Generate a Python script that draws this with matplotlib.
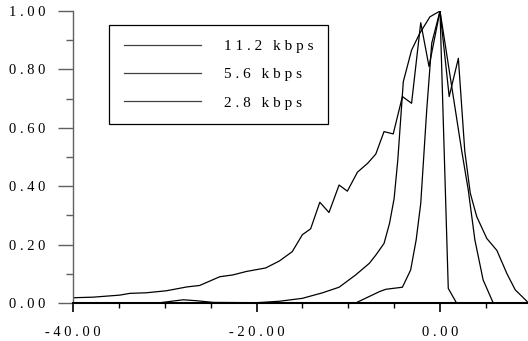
import numpy as np
import matplotlib
matplotlib.use("Agg")
import matplotlib.pyplot as plt
from matplotlib.ticker import MultipleLocator

# data
x_11k = [-40, -37.8, -34.9, -33.8, -32, -29.8, -27.6, -26.2, -24, -22.6, -21.1, -19,
         -17.5, -16.1, -15, -14.1, -13.1, -12.1, -11, -10.1, -9, -7.9, -7.0, -6.1,
         -5.1, -4.1, -3.1, -2.1, -1.2, 0, 1.0, 2.0, 2.7, 3.3, 4.0, 5.1, 6.2, 7.3, 8.2, 9.5]
y_11k = [0.018, 0.02, 0.027, 0.033, 0.035, 0.042, 0.055, 0.06, 0.09, 0.096, 0.108, 0.12,
         0.144, 0.176, 0.234, 0.254, 0.345, 0.31, 0.404, 0.383, 0.448, 0.478, 0.51, 0.587,
         0.579, 0.707, 0.684, 0.96, 0.81, 1.0, 0.707, 0.838, 0.52, 0.376, 0.296, 0.221,
         0.18, 0.10, 0.045, 0.005]

x_5k = [-40, -30.5, -28, -26.6, -24.7, -20, -17.5, -15, -12.8, -11, -9.2, -7.7, -7.0,
        -6.1, -5.5, -5.0, -4.6, -4.0, -3.1, -2.2, -1.1, 0, 2.35, 3.08, 3.8, 4.7, 5.8]
y_5k = [0.0, 0.001, 0.011, 0.008, 0.002, 0.001, 0.006, 0.016, 0.035, 0.054, 0.096, 0.136,
        0.164, 0.204, 0.273, 0.358, 0.49, 0.758, 0.866, 0.924, 0.98, 1.0, 0.524, 0.387,
        0.216, 0.079, 0.0]

x_2k = [-9.2, -6.6, -5.9, -4.1, -3.2, -2.6, -2.1, -1.45, -0.9, 0, 0.9, 1.8]
y_2k = [0.0, 0.039, 0.047, 0.054, 0.113, 0.216, 0.341, 0.66, 0.89, 1.0, 0.05, 0.0]

labels = ["11.2 kbps", "5.6 kbps", "2.8 kbps"]
xticks = [-40, -20, 0]
yticks = [0.0, 0.2, 0.4, 0.6, 0.8, 1.0]


def spaced(s):
    # letter-spaced look of the original
    return " ".join(s.replace(" ", "\u2009"))


plt.rcParams["font.family"] = ["Liberation Serif", "DejaVu Serif"]

fig = plt.figure(figsize=(5.28, 3.41), dpi=100)
ax = fig.add_axes([73 / 528, 38 / 341, 455 / 528, 292 / 341])

for xs, ys, lab in zip([x_11k, x_5k, x_2k], [y_11k, y_5k, y_2k], labels):
    ax.plot(xs, ys, color="black", lw=0.9, label=spaced(lab))

ax.set_xlim(-40, 9.59)
ax.set_ylim(0, 1.0)

ax.spines["top"].set_visible(False)
ax.spines["right"].set_visible(False)
ax.spines["left"].set_color("#606060")
ax.spines["left"].set_linewidth(1.0)
ax.spines["bottom"].set_color("black")
ax.spines["bottom"].set_linewidth(1.5)

ax.set_xticks(xticks)
ax.set_xticklabels([spaced(f"{v:.2f}") for v in xticks])
ax.set_yticks(yticks)
ax.set_yticklabels([spaced(f"{v:.2f}") for v in yticks])
ax.xaxis.set_minor_locator(MultipleLocator(5))
ax.yaxis.set_minor_locator(MultipleLocator(0.1))

ax.tick_params(axis="x", which="major", direction="out", length=6.5, width=1.2,
               color="black", pad=10, labelsize=10.5)
ax.tick_params(axis="x", which="minor", direction="out", length=3.6, width=1.0,
               color="black")
ax.tick_params(axis="y", which="major", direction="out", length=10.8, width=1.0,
               color="#606060", pad=9, labelsize=10.5)
ax.tick_params(axis="y", which="minor", direction="out", length=5, width=1.0,
               color="#606060")

leg = ax.legend(loc="upper left", bbox_to_anchor=(36 / 455, 1 - 14 / 292),
                frameon=True, fancybox=False, framealpha=1, edgecolor="black",
                fontsize=11, handlelength=5.05, handletextpad=1.5,
                borderpad=0.95, labelspacing=0.95, borderaxespad=0)
leg.get_frame().set_linewidth(0.9)
for ln in leg.get_lines():
    ln.set_color("#404040")

fig.savefig("out.png", dpi=100)
